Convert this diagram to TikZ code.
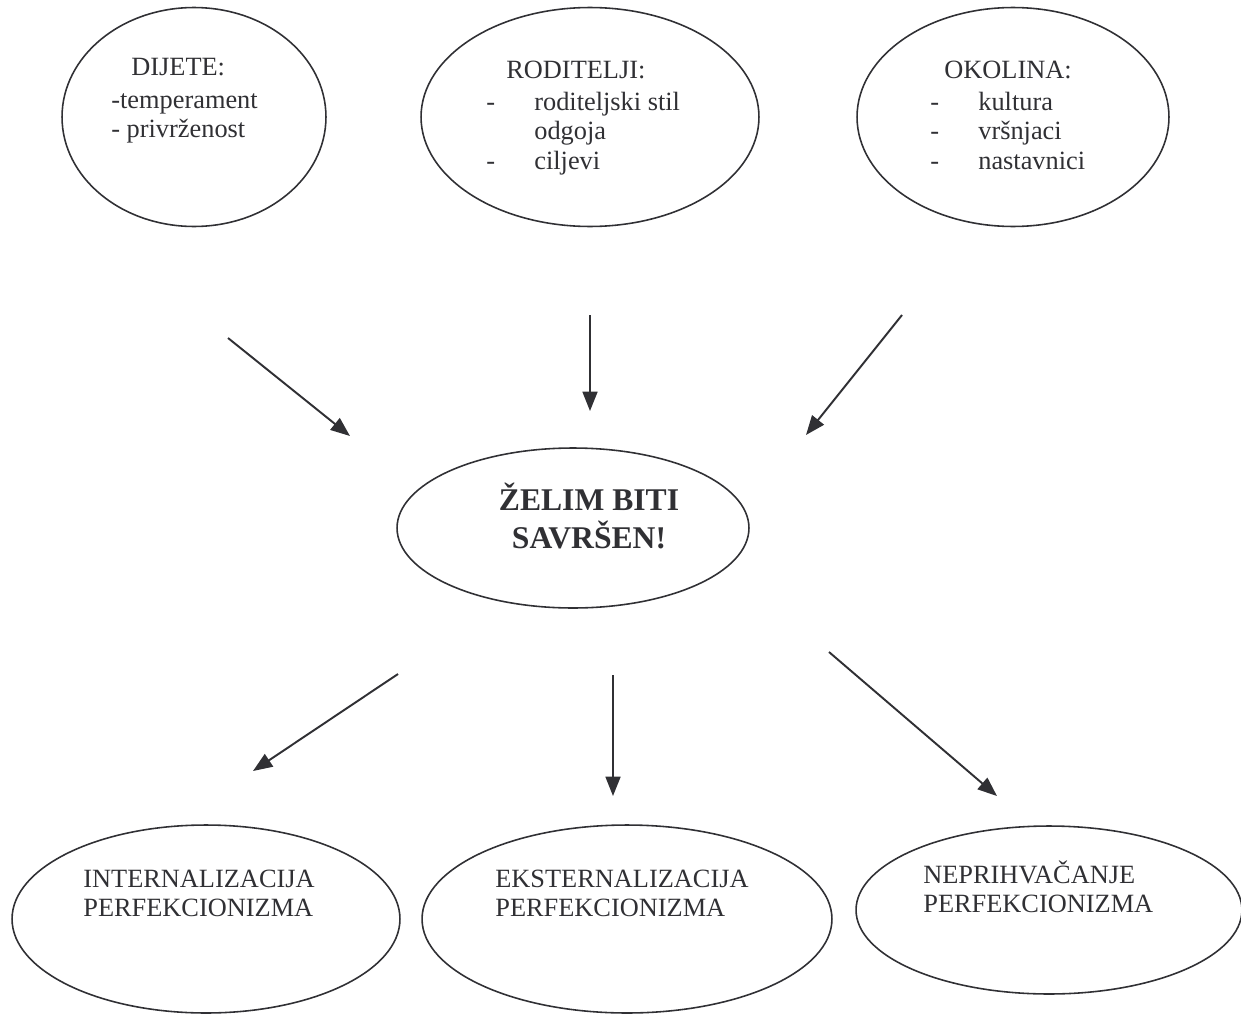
\documentclass[tikz,border=0pt]{standalone}
\usepackage{fontspec}
\setmainfont{Liberation Serif}
\usetikzlibrary{shapes.geometric,arrows.meta}
\definecolor{ink}{RGB}{48,48,52}
\newcommand{\rows}[1]{\begin{tabular}[t]{@{}l@{}}#1\end{tabular}}
\newcommand{\crt}[1]{\makebox[0.96cm][l]{-}#1}

\begin{document}
\begin{tikzpicture}
[x=0.02cm,y=-0.02cm,
 bubble/.style={ellipse,draw=ink,line width=0.9pt,inner sep=0pt},
 txt/.style={anchor=base west,inner sep=0pt,text=ink,font=\fontsize{15}{17}\selectfont},
 pointer/.style={draw=ink,line width=1.1pt,-{Triangle[length=11pt,width=8.5pt]}}]
\useasboundingbox (0,0) rectangle (1241,1014);

% uzroci
\node[bubble,minimum width=5.28cm,minimum height=4.38cm] (dijete) at (194,117) {};
\node[bubble,minimum width=6.76cm,minimum height=4.38cm] (roditelji) at (590,117) {};
\node[bubble,minimum width=6.24cm,minimum height=4.38cm] (okolina) at (1013,117) {};
\node[txt] (dijeteT) at (131,75) {DIJETE:};
\node[txt] (dijeteL) at (111,108) {\rows{-temperament\\- privrženost}};
\node[txt] (roditeljiT) at (506,78) {RODITELJI:};
\node[txt] (roditeljiL) at (486,110) {\rows{\crt{roditeljski stil}\\\hspace{0.96cm}odgoja\\\crt{ciljevi}}};
\node[txt] (okolinaT) at (944,78) {OKOLINA:};
\node[txt] (okolinaL) at (930,110) {\rows{\crt{kultura}\\\crt{vršnjaci}\\\crt{nastavnici}}};

% sredina
\node[bubble,minimum width=7.04cm,minimum height=3.2cm] (zelim) at (573,528) {};
\node[anchor=base,inner sep=0pt,text=ink,font=\fontsize{18}{21.5}\selectfont\bfseries] (zelimT) at (589,510)
  {\begin{tabular}[t]{@{}c@{}}ŽELIM BITI\\SAVRŠEN!\end{tabular}};

% posljedice
\node[bubble,minimum width=7.76cm,minimum height=3.76cm] (intern) at (206,919) {};
\node[bubble,minimum width=8.2cm,minimum height=3.76cm] (extern) at (627,919) {};
\node[bubble,minimum width=7.72cm,minimum height=3.36cm] (neprih) at (1049,910) {};
\node[txt] (internT) at (83,887) {\rows{INTERNALIZACIJA\\PERFEKCIONIZMA}};
\node[txt] (externT) at (495,887) {\rows{EKSTERNALIZACIJA\\PERFEKCIONIZMA}};
\node[txt] (neprihT) at (923,883) {\rows{NEPRIHVAČANJE\\PERFEKCIONIZMA}};

% strelice
\coordinate (d1) at (228,338);  \coordinate (d2) at (350,436);
\coordinate (r1) at (590,315);  \coordinate (r2) at (590,411);
\coordinate (o1) at (902,315);  \coordinate (o2) at (806,435);
\coordinate (i1) at (398,674);  \coordinate (i2) at (253,771);
\coordinate (e1) at (613,675);  \coordinate (e2) at (613,796);
\coordinate (n1) at (829,652);  \coordinate (n2) at (997,796);
\draw[pointer] (d1) -- (d2);
\draw[pointer] (r1) -- (r2);
\draw[pointer] (o1) -- (o2);
\draw[pointer] (i1) -- (i2);
\draw[pointer] (e1) -- (e2);
\draw[pointer] (n1) -- (n2);
\end{tikzpicture}
\end{document}
